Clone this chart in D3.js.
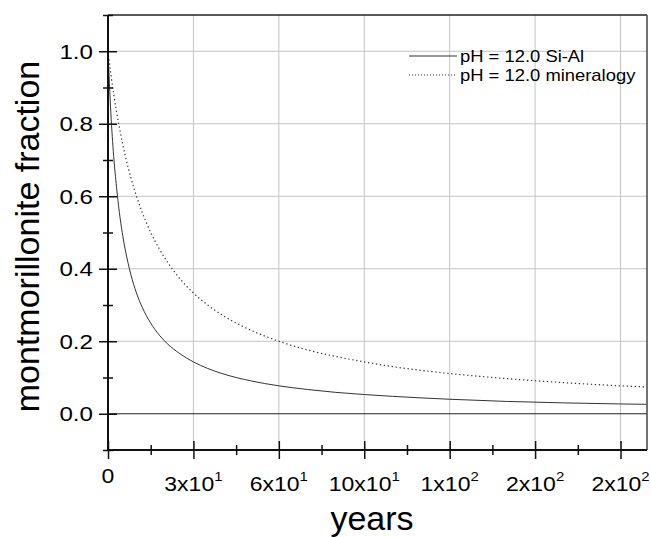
<!DOCTYPE html>
<html>
<head>
<meta charset="utf-8">
<script src="https://cdn.jsdelivr.net/npm/d3@7"></script>
<style>
  body { margin: 0; background: #fff; }
  text { font-family: "Liberation Sans", Arial, sans-serif; fill: #000; }
</style>
</head>
<body>
<svg id="chart"></svg>
<script>
// data
var years = [0, 1, 2, 3, 4, 5, 6, 8, 10, 12, 15, 18, 21, 25, 30, 35, 40, 50, 60, 70, 80, 90, 100, 120, 140, 160, 180, 189];
var siAl = [1.0, 0.83, 0.71, 0.625, 0.555, 0.5, 0.455, 0.385, 0.333, 0.294, 0.25, 0.217, 0.192, 0.167, 0.143, 0.125, 0.111, 0.091, 0.077, 0.067, 0.059, 0.053, 0.048, 0.04, 0.034, 0.03, 0.027, 0.026];
var mineralogy = [1.0, 0.937, 0.882, 0.833, 0.79, 0.75, 0.714, 0.652, 0.6, 0.556, 0.5, 0.455, 0.417, 0.375, 0.333, 0.3, 0.273, 0.231, 0.2, 0.176, 0.158, 0.143, 0.13, 0.111, 0.097, 0.086, 0.077, 0.074];

var xMajor = [0, 30, 60, 90, 120, 150, 180];
var xMinor = [15, 45, 75, 105, 135, 165];
var xLabelMain = ["0", "3x10", "6x10", "10x10", "1x10", "2x10", "2x10"];
var xLabelExp = ["", "1", "1", "1", "2", "2", "2"];
var yMajor = [0, 0.2, 0.4, 0.6, 0.8, 1.0];
var yMinor = [-0.1, 0.1, 0.3, 0.5, 0.7, 0.9, 1.1];
var seriesNames = ["pH = 12.0 Si-Al", "pH = 12.0 mineralogy"];

var W = 651, H = 537;
var pLeft = 108, pRight = 647, pTop = 15, pBottom = 450;
var stretch = 1.15;

var svg = d3.select("#chart").attr("width", W).attr("height", H);

var x = d3.scaleLinear().domain([0, 189.3]).range([pLeft, pRight]);
var y = d3.scaleLinear().domain([-0.1, 1.1]).range([pBottom, pTop]);

// grid
svg.append("g").selectAll("line")
    .data(xMajor.slice(1))
    .enter().append("line")
    .attr("x1", d => x(d)).attr("x2", d => x(d))
    .attr("y1", pTop).attr("y2", pBottom)
    .attr("stroke", "#c4c4c4").attr("stroke-width", 1);

svg.append("g").selectAll("line")
    .data(yMajor.slice(1))
    .enter().append("line")
    .attr("x1", pLeft).attr("x2", pRight)
    .attr("y1", d => y(d)).attr("y2", d => y(d))
    .attr("stroke", "#c4c4c4").attr("stroke-width", 1);

// zero line
svg.append("line")
    .attr("x1", pLeft).attr("x2", pRight)
    .attr("y1", y(0)).attr("y2", y(0))
    .attr("stroke", "#222").attr("stroke-width", 1);

// series
var line = d3.line()
    .x(function(d) { return x(d[0]); })
    .y(function(d) { return y(d[1]); })
    .curve(d3.curveMonotoneX);

svg.append("path")
    .datum(years.map(function(t, i) { return [t, siAl[i]]; }))
    .attr("d", line)
    .attr("fill", "none")
    .attr("stroke", "#333")
    .attr("stroke-width", 1);

svg.append("path")
    .datum(years.map(function(t, i) { return [t, mineralogy[i]]; }))
    .attr("d", line)
    .attr("fill", "none")
    .attr("stroke", "#333")
    .attr("stroke-width", 1.2)
    .attr("stroke-dasharray", "1.3,2.7");

// frame
svg.append("line").attr("x1", pLeft).attr("x2", pRight).attr("y1", pTop).attr("y2", pTop)
    .attr("stroke", "#222").attr("stroke-width", 1.5);
svg.append("line").attr("x1", pRight).attr("x2", pRight).attr("y1", pTop).attr("y2", pBottom)
    .attr("stroke", "#444").attr("stroke-width", 1.5);

// x axis
var xAxis = svg.append("g")
    .attr("transform", "translate(0," + pBottom + ")")
    .call(d3.axisBottom(x).tickValues(xMajor).tickSize(9).tickFormat(""));
xAxis.selectAll(".tick line").attr("y1", -9).attr("stroke", "#111").attr("stroke-width", 1.5);
xAxis.select(".domain").attr("stroke", "#111").attr("stroke-width", 2).attr("d", "M" + pLeft + ",0H" + pRight);

var xAxisMinor = svg.append("g")
    .attr("transform", "translate(0," + pBottom + ")")
    .call(d3.axisBottom(x).tickValues(xMinor).tickSize(5).tickFormat(""));
xAxisMinor.select(".domain").remove();
xAxisMinor.selectAll(".tick line").attr("y1", -5).attr("stroke", "#111").attr("stroke-width", 1.5);

var xl = svg.append("g").selectAll("g")
    .data(xMajor)
    .enter().append("g")
    .attr("transform", function(d, i) {
        return "translate(" + x(d) + "," + (i === 0 ? 483 : 491) + ") scale(" + stretch + ",1)";
    });
var xt = xl.append("text")
    .attr("text-anchor", "middle")
    .attr("font-size", 20);
xt.append("tspan").text(function(d, i) { return xLabelMain[i]; });
xt.append("tspan")
    .attr("font-size", 13)
    .attr("dy", -10)
    .text(function(d, i) { return xLabelExp[i]; });

// y axis
var yAxis = svg.append("g")
    .attr("transform", "translate(" + pLeft + ",0)")
    .call(d3.axisLeft(y).tickValues(yMajor).tickSize(9).tickFormat(""));
yAxis.selectAll(".tick line").attr("x2", 9).attr("x1", -9).attr("stroke", "#111").attr("stroke-width", 1.5);
yAxis.select(".domain").attr("stroke", "#111").attr("stroke-width", 2).attr("d", "M0," + pTop + "V" + pBottom);

var yAxisMinor = svg.append("g")
    .attr("transform", "translate(" + pLeft + ",0)")
    .call(d3.axisLeft(y).tickValues(yMinor).tickSize(5).tickFormat(""));
yAxisMinor.select(".domain").remove();
yAxisMinor.selectAll(".tick line").attr("x2", 5).attr("x1", -5).attr("stroke", "#111").attr("stroke-width", 1.5);

svg.append("g").selectAll("text")
    .data(yMajor)
    .enter().append("text")
    .attr("transform", function(d) { return "translate(93," + y(d) + ") scale(" + stretch + ",1)"; })
    .attr("text-anchor", "end")
    .attr("dy", "0.36em")
    .attr("font-size", 21)
    .text(d3.format(".1f"));

// axis titles
svg.append("text")
    .attr("x", 372).attr("y", 530)
    .attr("text-anchor", "middle")
    .attr("font-size", 34)
    .text("years");

svg.append("text")
    .attr("transform", "translate(39," + ((pTop + pBottom) / 2 + 4) + ") rotate(-90)")
    .attr("text-anchor", "middle")
    .attr("font-size", 34)
    .text("montmorillonite fraction");

// legend
var legend = svg.append("g").selectAll("g")
    .data(seriesNames)
    .enter().append("g")
    .attr("transform", function(d, i) { return "translate(409," + (56 + i * 19) + ")"; });
legend.append("line")
    .attr("x1", 0).attr("x2", 48)
    .attr("stroke", "#333")
    .attr("stroke-width", 1)
    .attr("stroke-dasharray", function(d, i) { return i === 0 ? null : "1,2"; });
legend.append("text")
    .attr("transform", "translate(51,0) scale(" + stretch + ",1)")
    .attr("dy", "0.36em")
    .attr("font-size", 16)
    .text(function(d) { return d; });
</script>
</body>
</html>
